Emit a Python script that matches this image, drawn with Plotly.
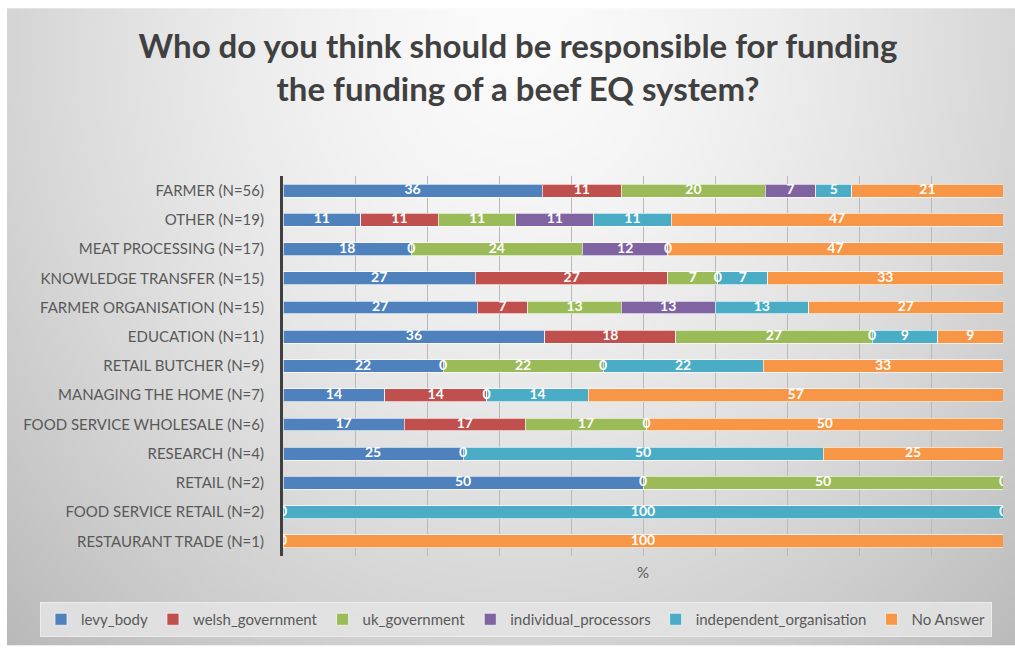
import base64
import struct
import zlib

import numpy as np
import plotly.graph_objects as go

# Respondent groups (top to bottom) and share of answers per funding body (%)
categories = [
    "FARMER (N=56)",
    "OTHER (N=19)",
    "MEAT PROCESSING (N=17)",
    "KNOWLEDGE TRANSFER (N=15)",
    "FARMER ORGANISATION (N=15)",
    "EDUCATION (N=11)",
    "RETAIL BUTCHER (N=9)",
    "MANAGING THE HOME (N=7)",
    "FOOD SERVICE WHOLESALE (N=6)",
    "RESEARCH (N=4)",
    "RETAIL (N=2)",
    "FOOD SERVICE RETAIL (N=2)",
    "RESTAURANT TRADE (N=1)",
]

levy_body = [36, 11, 18, 27, 27, 36, 22, 14, 17, 25, 50, 0, 0]
welsh_government = [11, 11, 0, 27, 7, 18, 0, 14, 17, 0, 0, None, None]
uk_government = [20, 11, 24, 7, 13, 27, 22, 0, 17, None, 50, None, None]
individual_processors = [7, 11, 12, 0, 13, 0, 0, None, None, None, None, None, None]
independent_organisation = [5, 11, 0, 7, 13, 9, 22, 14, 0, 50, None, 100, None]
no_answer = [21, 47, 47, 33, 27, 9, 33, 57, 50, 25, 0, 0, 100]

series_names = [
    "levy_body",
    "welsh_government",
    "uk_government",
    "individual_processors",
    "independent_organisation",
    "No Answer",
]
series_values = [
    levy_body,
    welsh_government,
    uk_government,
    individual_processors,
    independent_organisation,
    no_answer,
]
series_colors = ["#4f81bd", "#c0504d", "#9bbb59", "#8064a2", "#4bacc6", "#f79646"]

W, H = 1015, 649
M_L, M_R, M_T, M_B = 283, 12, 176, 90
PLOT_W = W - M_L - M_R
PLOT_H = H - M_T - M_B


def gradient_png(w, h):
    """Soft grey radial backdrop, brightest behind the title."""
    xs = np.linspace(7, W, w)
    ys = np.linspace(7, H, h)
    X, Y = np.meshgrid(xs, ys)
    d = np.sqrt(((X - 520) / 600.0) ** 2 + ((Y - 30) / 700.0) ** 2)
    val = 251 - 48 * np.clip(d, 0, 1.4) ** 1.5
    img = np.clip(val, 0, 255).astype(np.uint8)
    raw = b"".join(b"\x00" + img[r].tobytes() for r in range(h))

    def chunk(tag, data):
        return (struct.pack(">I", len(data)) + tag + data
                + struct.pack(">I", zlib.crc32(tag + data) & 0xFFFFFFFF))

    png = (b"\x89PNG\r\n\x1a\n"
           + chunk(b"IHDR", struct.pack(">IIBBBBB", w, h, 8, 0, 0, 0, 0))
           + chunk(b"IDAT", zlib.compress(raw, 9))
           + chunk(b"IEND", b""))
    return "data:image/png;base64," + base64.b64encode(png).decode()


fig = go.Figure()

for name, vals, color in zip(series_names, series_values, series_colors):
    fig.add_trace(go.Bar(
        name=name,
        y=categories,
        x=vals,
        orientation="h",
        marker=dict(color=color, line=dict(color="rgba(255,255,255,0.65)", width=1)),
        textposition="none",
        hoverinfo="x+y+name",
    ))

# Value labels centred on each (normalised) segment, zero entries included
lab_x, lab_y, lab_t = [], [], []
for i, cat in enumerate(categories):
    row = [s[i] for s in series_values]
    total = sum(v for v in row if v is not None)
    cum = 0.0
    for v in row:
        if v is None:
            continue
        lab_x.append((cum + v / 2.0) / total * 100.0)
        lab_y.append(cat)
        lab_t.append(str(v))
        cum += v

fig.add_trace(go.Scatter(
    x=lab_x, y=lab_y, text=lab_t, mode="text",
    textfont=dict(family="Lato", size=14, color="white", weight="bold"),
    textposition="middle center",
    showlegend=False, hoverinfo="skip",
))

fig.update_layout(
    width=W, height=H,
    margin=dict(l=M_L, r=M_R, t=M_T, b=M_B),
    paper_bgcolor="white",
    plot_bgcolor="rgba(0,0,0,0)",
    barmode="stack",
    barnorm="percent",
    bargap=0.56,
    font=dict(family="Lato", color="#595959"),
    title=dict(
        text="Who do you think should be responsible for funding<br>the funding of a beef EQ system?",
        x=518 / W, xref="container", xanchor="center",
        y=1 - 58 / H, yref="container", yanchor="middle",
        font=dict(family="Lato", size=33, color="#404040", weight="bold"),
    ),
    legend=dict(
        orientation="h",
        xref="paper", x=(40 - M_L) / PLOT_W, xanchor="left",
        yref="paper", y=-(623 - (H - M_B)) / PLOT_H, yanchor="middle",
        bgcolor="rgba(228,228,228,0.85)",
        bordercolor="#ececec", borderwidth=1,
        font=dict(family="Lato", size=15, color="#595959"),
        traceorder="normal",
        itemwidth=30,
    ),
    xaxis=dict(
        range=[0, 100],
        dtick=10,
        showgrid=True, gridcolor="#b9b9b9", gridwidth=1,
        showticklabels=False,
        zeroline=False,
        ticks="",
        title=dict(text="%", font=dict(family="Lato", size=15, color="#595959"), standoff=11),
        fixedrange=True,
    ),
    yaxis=dict(
        categoryorder="array",
        categoryarray=categories[::-1],
        range=[-0.5, len(categories) - 0.5],
        autorange=False,
        showline=True, linecolor="#404040", linewidth=3,
        ticks="", ticklabelstandoff=13,
        tickfont=dict(family="Lato", size=15, color="#595959"),
        showgrid=False,
        fixedrange=True,
    ),
    images=[dict(
        source=gradient_png(252, 160),
        xref="paper", yref="paper",
        x=-(M_L - 7) / PLOT_W, y=1 + (M_T - 7) / PLOT_H,
        sizex=(W - 7) / PLOT_W, sizey=(H - 7) / PLOT_H,
        xanchor="left", yanchor="top",
        sizing="stretch", layer="below",
    )],
)

fig.write_html("out.html")
